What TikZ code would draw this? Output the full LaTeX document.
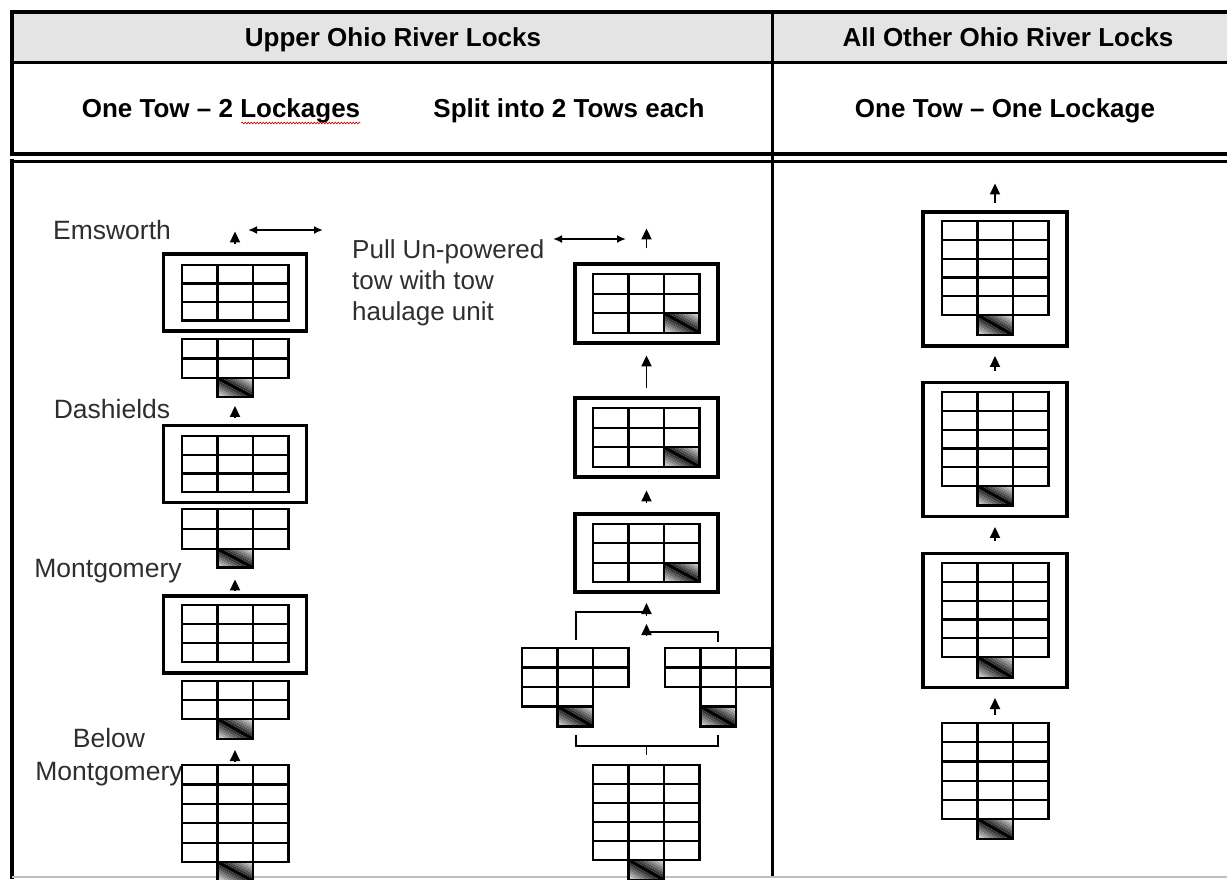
\documentclass[tikz,border=0pt]{standalone}
\usepackage{fontspec}
\setmainfont{Liberation Sans}
\usetikzlibrary{arrows.meta, decorations.pathmorphing}
\definecolor{hdrgray}{HTML}{E4E4E4}
\definecolor{lblgray}{HTML}{2E2E2E}
% barge grid: x, y (top left), columns, rows, row height
\newcommand{\barges}[5]{%
  \foreach \cc in {1,...,#3}{%
    \foreach \rr in {1,...,#4}{%
      \draw[cell] ({#1+(\cc-1)*35.5},{#2+(\rr-1)*#5}) rectangle ++(35.5,#5);
    }%
  }%
}
% towboat: x, y (top left), height -- dark along the diagonal, fading to the corners
\newcommand{\towboat}[3]{%
  \foreach \bnd [evaluate=\bnd as \shd using {int(90-\bnd*11)}] in {0,...,7}{%
    \fill[black!\shd] (#1,{#2+\bnd/8*#3}) -- ({#1+35.5-\bnd/8*35.5},{#2+#3})
      -- ({#1+35.5-(\bnd+1)/8*35.5},{#2+#3}) -- (#1,{#2+(\bnd+1)/8*#3}) -- cycle;
    \fill[black!\shd] ({#1+\bnd/8*35.5},#2) -- ({#1+35.5},{#2+#3-\bnd/8*#3})
      -- ({#1+35.5},{#2+#3-(\bnd+1)/8*#3}) -- ({#1+(\bnd+1)/8*35.5},#2) -- cycle;
  }
  \draw[cell] (#1,#2) rectangle ++(35.5,#3);
  \draw[cell] (#1,#2) -- ++(35.5,#3);
}

\begin{document}
\begin{tikzpicture}[x=1pt, y=-1pt,
  rule/.style={line width=3.6pt},
  cell/.style={line width=2.2pt},
  lock/.style={draw, line width=3.1pt, inner sep=0pt, minimum width=143pt},
  link/.style={line width=1.8pt},
  uparrow/.style={line width=1.9pt, -{Triangle[length=11pt, width=10pt]}},
  haul/.style={line width=1.8pt, {Latex[length=9pt, width=8pt]}-{Latex[length=9pt, width=8pt]}},
  hdr/.style={font=\fontsize{26}{30}\selectfont\bfseries, inner sep=0pt, anchor=base},
  lbl/.style={font=\fontsize{26.5}{33}\selectfont, text=lblgray, inner sep=0pt}]

  \useasboundingbox (0,0) rectangle (1227,879);

  % table frame
  \fill[hdrgray] (12,14) rectangle (1227,62);
  \draw[rule] (10,12) -- (1227,12);
  \draw[rule] (12,10) -- (12,156);
  \draw[line width=3pt] (12,62) -- (1227,62);
  \draw[rule] (10,154) -- (1227,154);
  \draw[line width=3pt] (10,161) -- (1227,161);
  \draw[rule] (12,159) -- (12,879);
  \draw[line width=3pt] (772,12) -- (772,876);
  \draw[black!25, line width=2pt] (12,877) -- (1227,877);

  % headings
  \node[hdr] (hdrUp) at (393,46) {Upper Ohio River Locks};
  \node[hdr] (hdrAll) at (1008,46) {All Other Ohio River Locks};
  \node[hdr] (hdrA) at (221,117) {One Tow – 2 Lockages};
  \node[hdr] (hdrB) at (569,117) {Split into 2 Tows each};
  \node[hdr] (hdrC) at (1005,117) {One Tow – One Lockage};
  \draw[red!80!black, line width=0.6pt, decorate,
    decoration={snake, amplitude=0.9pt, segment length=3pt}]
    ([shift={(-119,6)}]hdrA.base east) -- ([shift={(0,6)}]hdrA.base east);

  % lock names
  \node[lbl] (emsworth) at (112,230) {Emsworth};
  \node[lbl] (dashields) at (112,409) {Dashields};
  \node[lbl] (montgomery) at (108,571) {Montgomery};
  \node[lbl, align=center] (below) at (109,757) {Below\\Montgomery};
  \node[lbl, align=left, anchor=west, font=\fontsize{26}{31}\selectfont] (haulage) at (352,283)
    {Pull Un-powered\\tow with tow\\haulage unit};

  % one tow, two lockages
  \node[lock, minimum height=77pt] (lockE) at (235,292.5) {};
  \barges{182}{265}{3}{3}{18.5}
  \barges{182}{339}{3}{2}{19.5}
  \towboat{217.5}{378}{19}
  \node[lock, minimum height=77pt] (lockD) at (235,464) {};
  \barges{182}{436}{3}{3}{18.7}
  \barges{182}{509}{3}{2}{20}
  \towboat{217.5}{549}{18.5}
  \node[lock, minimum height=77pt] (lockM) at (235,634.5) {};
  \barges{182}{605}{3}{3}{19}
  \barges{182}{681}{3}{2}{19}
  \towboat{217.5}{719}{20}
  \coordinate (towE) at (235,765);
  \barges{182}{765}{3}{5}{19.4}
  \towboat{217.5}{862}{19}

  \coordinate (haulE1) at (248,230);
  \coordinate (haulE2) at (323,230);
  \draw[haul] (haulE1) -- (haulE2);
  \draw[uparrow] ([shift={(0,-8)}]lockE.north) -- ++(0,-13);
  \draw[uparrow] ([shift={(0,-6)}]lockD.north) -- ++(0,-12);
  \draw[uparrow] ([shift={(0,-4)}]lockM.north) -- ++(0,-11);
  \draw[uparrow] ([shift={(0,-3)}]towE) -- ++(0,-12);

  % split into two tows
  \node[lock, minimum height=79pt] (lockP1) at (646.5,303.5) {};
  \barges{593}{274}{3}{2}{19.6}
  \barges{593}{313.2}{2}{1}{19.6}
  \towboat{664}{313.2}{19.6}
  \node[lock, minimum height=79pt] (lockP2) at (646.5,437.5) {};
  \barges{593}{408}{3}{2}{19.6}
  \barges{593}{447.2}{2}{1}{19.6}
  \towboat{664}{447.2}{19.6}
  \node[lock, minimum height=78pt] (lockP3) at (646.5,553) {};
  \barges{593}{524}{3}{2}{19.3}
  \barges{593}{562.6}{2}{1}{19.3}
  \towboat{664}{562.6}{19.3}

  \barges{522}{648}{3}{2}{19.5}
  \barges{522}{687}{2}{1}{19.5}
  \towboat{557.5}{706.5}{20}
  \barges{665}{648}{3}{2}{19.5}
  \barges{700.5}{687}{1}{1}{19.5}
  \towboat{700.5}{706.5}{20}
  \coordinate (towP) at (646.5,765);
  \barges{593}{765}{3}{5}{19}
  \towboat{628.5}{860}{20}

  \coordinate (haulP1) at (553,239);
  \coordinate (haulP2) at (626,239);
  \draw[haul] (haulP1) -- (haulP2);
  \draw[uparrow] ([shift={(0,-14)}]lockP1.north) -- ++(0,-20);
  \draw[uparrow] ([shift={(0,-8)}]lockP2.north) -- ++(0,-33);
  \draw[uparrow] ([shift={(0,-9)}]lockP3.north) -- ++(0,-13);

  \coordinate (splitL) at (576,640);
  \coordinate (splitR) at (718,642);
  \coordinate (joinL) at (646.5,612);
  \coordinate (joinR) at (646.5,632);
  \draw[link] (splitL) |- (joinL);
  \draw[link] (splitR) |- (joinR);
  \draw[uparrow] ([shift={(0,4)}]joinL) -- ++(0,-13);
  \draw[uparrow] ([shift={(0,4)}]joinR) -- ++(0,-12);

  \coordinate (mergeL) at (576,735);
  \coordinate (mergeR) at (718,735);
  \coordinate (mergeC) at (646.5,746);
  \draw[link] (mergeL) |- (mergeC) -| (mergeR);
  \draw[link] (mergeC) -- ([shift={(0,-10)}]towP);

  % one tow, one lockage
  \node[lock, minimum width=144pt, minimum height=134pt] (lockR1) at (995,279) {};
  \barges{942}{221}{3}{5}{18.8}
  \towboat{977.5}{315}{20}
  \node[lock, minimum width=144pt, minimum height=134pt] (lockR2) at (995,449.5) {};
  \barges{942}{392}{3}{5}{18.8}
  \towboat{977.5}{486}{19.5}
  \node[lock, minimum width=144pt, minimum height=134pt] (lockR3) at (995,620.5) {};
  \barges{942}{563}{3}{5}{18.8}
  \towboat{977.5}{657}{21}
  \coordinate (towR) at (995,723);
  \barges{942}{723}{3}{5}{19.2}
  \towboat{977.5}{819}{20}

  \draw[uparrow] ([shift={(0,-7)}]lockR1.north) -- ++(0,-20);
  \draw[uparrow] ([shift={(0,-10)}]lockR2.north) -- ++(0,-15);
  \draw[uparrow] ([shift={(0,-11)}]lockR3.north) -- ++(0,-14);
  \draw[uparrow] ([shift={(0,-8)}]towR) -- ++(0,-17);

\end{tikzpicture}
\end{document}
